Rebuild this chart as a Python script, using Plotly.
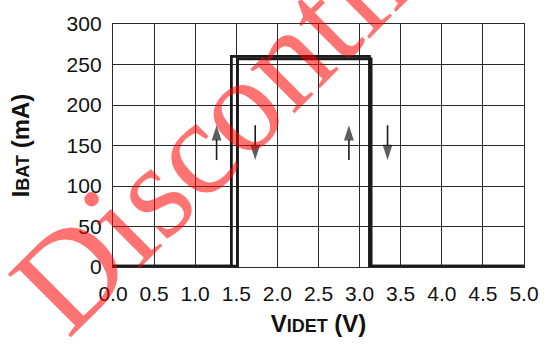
import plotly.graph_objects as go

# Supply current versus detect-pin voltage, showing hysteresis on both edges
v_rise = [0.0, 1.515, 1.515, 3.14, 3.14, 5.0]
i_rise = [1, 1, 257, 257, 1, 1]
v_fall = [0.0, 1.44, 1.44, 3.12, 3.12, 5.0]
i_fall = [1, 1, 260, 260, 1, 1]

# Direction arrows: (x, tail current, tip current)
arrow_x = [1.26, 1.73, 2.87, 3.34]
arrow_tail = [132, 175, 132, 175]
arrow_tip = [175, 132, 175, 132]

x_ticks = [0.0, 0.5, 1.0, 1.5, 2.0, 2.5, 3.0, 3.5, 4.0, 4.5, 5.0]
y_ticks = [0, 50, 100, 150, 200, 250, 300]

ink = "#1a1a1a"

fig = go.Figure()
fig.add_trace(go.Scatter(x=v_fall, y=i_fall, mode="lines",
                         line=dict(color=ink, width=2.8), hoverinfo="skip"))
fig.add_trace(go.Scatter(x=v_rise, y=i_rise, mode="lines",
                         line=dict(color=ink, width=2.8), hoverinfo="skip"))

# Each arrow is a short line with an arrow marker at its tip
for xa, t0, t1 in zip(arrow_x, arrow_tail, arrow_tip):
    fig.add_trace(go.Scatter(
        x=[xa, xa], y=[t0, t1], mode="lines+markers",
        line=dict(color=ink, width=1.6),
        marker=dict(symbol="arrow", angleref="previous", size=[0, 16],
                    color=ink, line=dict(width=0)),
        hoverinfo="skip"))

fig.add_annotation(
    text="Discontinued", xref="paper", yref="paper", x=0.435, y=0.89,
    xanchor="center", yanchor="middle",
    showarrow=False, textangle=-45,
    font=dict(family="Liberation Serif", size=136, color="rgba(255,0,0,0.55)"),
)

axis_common = dict(showgrid=True, gridcolor="#2a2a2a", gridwidth=1.3,
                   showline=True, linecolor="#2a2a2a", linewidth=1.3, mirror=True,
                   zeroline=False, ticks="",
                   tickfont=dict(family="Liberation Sans", size=21, color="#111"))

title_font = dict(family="Liberation Sans", size=24, color="#111", weight="bold")

fig.update_xaxes(range=[0, 5], tickvals=x_ticks,
                 ticktext=[f"{v:.1f}" for v in x_ticks], ticklabelstandoff=8,
                 title=dict(text='V<span style="font-size:18px">IDET</span> (V)',
                            font=title_font, standoff=10),
                 **axis_common)
fig.update_yaxes(range=[0, 300], tickvals=y_ticks, ticklabelstandoff=6,
                 title=dict(text='I<span style="font-size:18px">BAT</span> (mA)',
                            font=title_font, standoff=30),
                 **axis_common)

fig.update_layout(width=551, height=344, showlegend=False,
                  margin=dict(l=113, r=23, t=17, b=75),
                  plot_bgcolor="white", paper_bgcolor="white")

fig.write_html("out.html")
